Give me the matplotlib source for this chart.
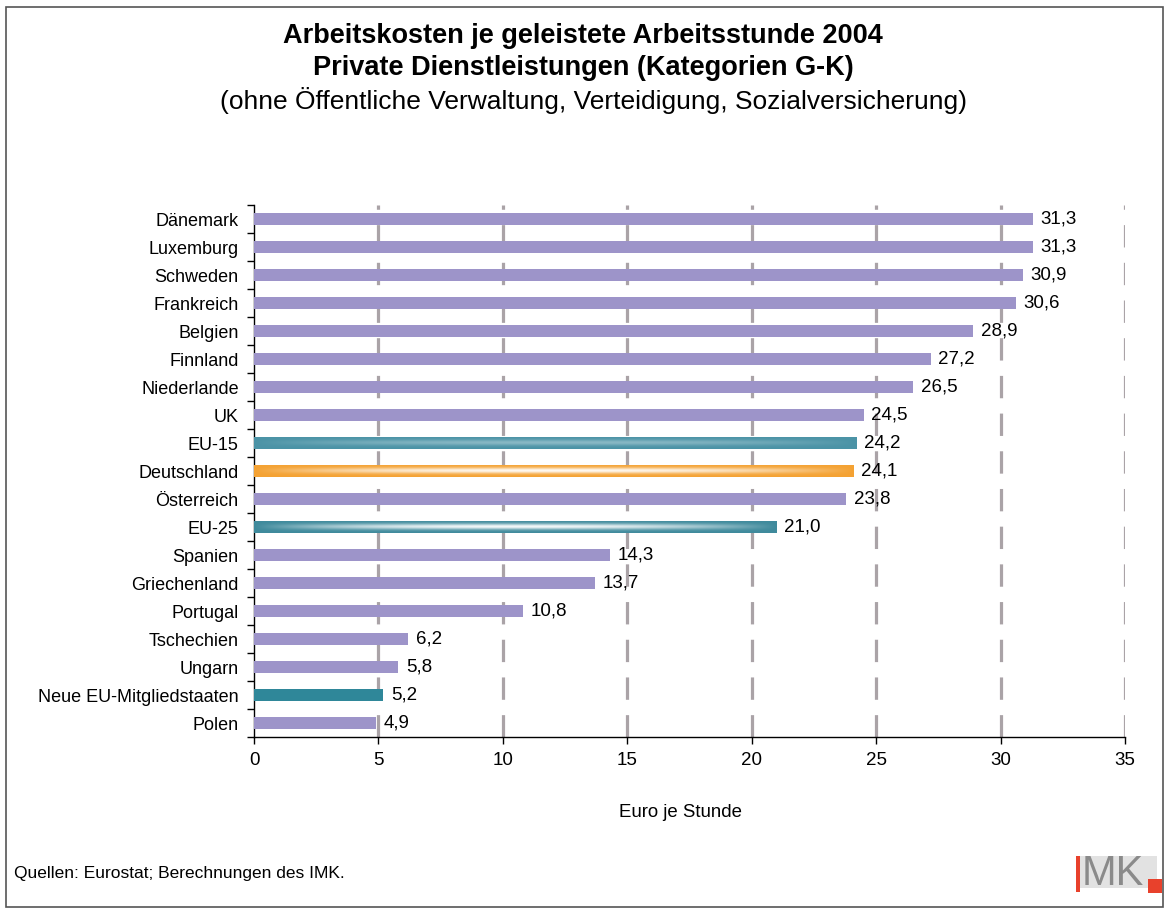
import numpy as np
import matplotlib
matplotlib.use("Agg")
import matplotlib.pyplot as plt
from matplotlib.patches import Rectangle
from matplotlib.colors import to_rgb

plt.rcParams['font.family'] = ['Liberation Sans', 'DejaVu Sans']

countries = ["Dänemark", "Luxemburg", "Schweden", "Frankreich", "Belgien",
             "Finnland", "Niederlande", "UK", "EU-15", "Deutschland",
             "Österreich", "EU-25", "Spanien", "Griechenland", "Portugal",
             "Tschechien", "Ungarn", "Neue EU-Mitgliedstaaten", "Polen"]
values = [31.3, 31.3, 30.9, 30.6, 28.9, 27.2, 26.5, 24.5, 24.2, 24.1,
          23.8, 21.0, 14.3, 13.7, 10.8, 6.2, 5.8, 5.2, 4.9]
x_ticks = [0, 5, 10, 15, 20, 25, 30, 35]

PURPLE = "#9d94c9"
# bar styles: (base colour, white highlight strength)
special = {
    "EU-15": ("#4b93a6", 0.35),
    "Deutschland": ("#f4a233", 0.95),
    "EU-25": ("#3f8a9c", 0.95),
    "Neue EU-Mitgliedstaaten": ("#2f8799", 0.0),
}

fig = plt.figure(figsize=(11.69, 9.13), dpi=100)
ax = fig.add_axes([254 / 1169, 1 - 737 / 913, 871 / 1169, 532 / 913])

n = len(countries)
ypos = np.arange(n)[::-1]
bar_h = 0.44

for name, v, y in zip(countries, values, ypos):
    if name in special:
        base, strength = special[name]
        bar = ax.barh(y, v, height=bar_h, color=base, zorder=3)[0]
        if strength > 0:
            # tube-like shading: light stripe in the middle, fading to the ends
            nx, ny = 300, 40
            gx = np.linspace(-1, 1, nx)
            gy = np.linspace(-1, 1, ny)
            fx = np.clip(1 - np.abs(gx) ** 2.2, 0, 1)
            fy = np.exp(-(gy / 0.45) ** 2)
            w = strength * np.outer(fy, fx)
            rgb = np.array(to_rgb(base))
            img = rgb[None, None, :] * (1 - w[..., None]) + w[..., None]
            im = ax.imshow(img, extent=[0, v, y - bar_h / 2, y + bar_h / 2],
                           aspect="auto", zorder=3.5, interpolation="bilinear")
            im.set_clip_path(bar)
    else:
        ax.barh(y, v, height=bar_h, color=PURPLE, zorder=3)
    ax.text(v + 0.3, y, f"{v:.1f}".replace(".", ","), va="center",
            ha="left", fontsize=13.5, zorder=5)

ax.set_xlim(0, 35)
ax.set_ylim(-0.5, n - 0.5)

for xv in x_ticks[1:]:
    ax.axvline(xv, color="#aaa3a7", lw=2.3, zorder=1,
               dashes=(7.0, 4.8), dash_capstyle="butt")

ax.set_xticks(x_ticks)
ax.set_xticklabels([str(t) for t in x_ticks], fontsize=13.5)
ax.set_yticks(ypos)
ax.set_yticklabels(countries, fontsize=13)
ax.set_yticks(np.arange(n + 1) - 0.5, minor=True)
ax.tick_params(axis="y", which="major", length=0, pad=11)
ax.tick_params(axis="y", which="minor", length=5, width=1, direction="out")
ax.tick_params(axis="x", length=5, width=1, direction="out", pad=6)
for s in ("top", "right"):
    ax.spines[s].set_visible(False)
for s in ("left", "bottom"):
    ax.spines[s].set_linewidth(1)
ax.set_xlabel("Euro je Stunde", fontsize=13.4, labelpad=22)
ax.xaxis.set_label_coords(0.49, -0.125)
ax.set_facecolor("none")

# titles
fig.text(0.499, 1 - 36 / 913, "Arbeitskosten je geleistete Arbeitsstunde 2004",
         ha="center", va="center", fontsize=19.5, fontweight="bold")
fig.text(0.499, 1 - 68 / 913, "Private Dienstleistungen (Kategorien G-K)",
         ha="center", va="center", fontsize=19.5, fontweight="bold")
fig.text(0.508, 1 - 101 / 913,
         "(ohne Öffentliche Verwaltung, Verteidigung, Sozialversicherung)",
         ha="center", va="center", fontsize=19)

fig.text(14 / 1169, 1 - 873 / 913, "Quellen: Eurostat; Berechnungen des IMK.",
         ha="left", va="center", fontsize=12.5)

# outer frame
fig.patches.append(Rectangle((6 / 1169, 6 / 913), 1157 / 1169, 900 / 913,
                             transform=fig.transFigure, fill=False,
                             edgecolor="#555555", lw=1.2))

# IMK logo
tf = fig.transFigure
fig.patches.append(Rectangle((1080 / 1169, 1 - 888 / 913), 77 / 1169, 32 / 913,
                             transform=tf, color="#e2e2e2", lw=0))
fig.patches.append(Rectangle((1076 / 1169, 1 - 892 / 913), 4 / 1169, 36 / 913,
                             transform=tf, color="#e8412c", lw=0))
fig.text(1082 / 1169, 1 - 874 / 913, "MK", ha="left", va="center",
         fontsize=30, color="#8a8a8a", family="Liberation Sans")
fig.patches.append(Rectangle((1148 / 1169, 1 - 893 / 913), 14 / 1169, 14 / 913,
                             transform=tf, color="#e8412c", lw=0))

fig.savefig("out.png", dpi=100, facecolor="white")
